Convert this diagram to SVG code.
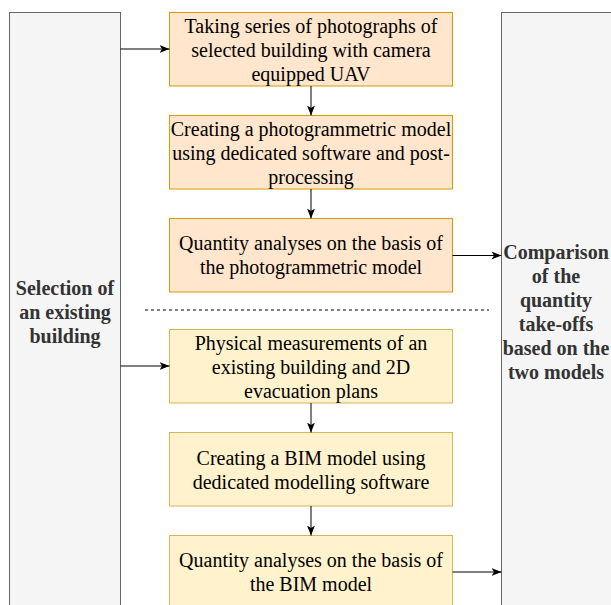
<svg xmlns="http://www.w3.org/2000/svg" width="611" height="605" viewBox="0 0 611 605">
<style>
.panel{fill:#f5f5f5;stroke:#666666;stroke-width:1}
.orange{fill:#ffe6cc;stroke:#d79b00;stroke-width:1}
.yellow{fill:#fff2cc;stroke:#d6b656;stroke-width:1}
.t{font-family:"Liberation Serif","Times New Roman",serif;font-size:20px;fill:#000;text-anchor:middle}
.pt{font-family:"Liberation Serif","Times New Roman",serif;font-size:20px;font-weight:bold;fill:#333333;text-anchor:middle}
.edge{fill:none;stroke:#000;stroke-width:1}
</style>
<defs>
<marker id="arr" viewBox="0 0 10 10" refX="10" refY="5" markerWidth="10" markerHeight="10" markerUnits="userSpaceOnUse" orient="auto">
<path d="M0,1 L10,5 L0,9 L2.5,5 Z" fill="#000"/>
</marker>
</defs>
<rect width="611" height="605" fill="#ffffff"/>
<g id="left-panel">
<rect class="panel" x="9.5" y="12.5" width="111" height="600"/>
<text class="pt"><tspan x="65" y="295">Selection of</tspan><tspan x="65" y="319">an existing</tspan><tspan x="65" y="343">building</tspan></text>
</g>
<g id="right-panel">
<rect class="panel" x="501.5" y="12.5" width="120" height="600"/>
<text class="pt"><tspan x="556" y="259">Comparison</tspan><tspan x="556" y="283">of the</tspan><tspan x="556" y="307">quantity</tspan><tspan x="556" y="331">take-offs</tspan><tspan x="556" y="355">based on the</tspan><tspan x="556" y="379">two models</tspan></text>
</g>
<g id="box1">
<rect class="orange" x="169.5" y="12.5" width="283" height="73.5"/>
<text class="t"><tspan x="311" y="33">Taking series of photographs of</tspan><tspan x="311" y="57">selected building with camera</tspan><tspan x="311" y="81">equipped UAV</tspan></text>
</g>
<g id="box2">
<rect class="orange" x="169.5" y="115.5" width="283" height="73.5"/>
<text class="t"><tspan x="311" y="136">Creating a photogrammetric model</tspan><tspan x="311" y="160">using dedicated software and post-</tspan><tspan x="311" y="184">processing</tspan></text>
</g>
<g id="box3">
<rect class="orange" x="169.5" y="218.5" width="283" height="73.5"/>
<text class="t"><tspan x="311" y="250">Quantity analyses on the basis of</tspan><tspan x="311" y="274">the photogrammetric model</tspan></text>
</g>
<g id="box4">
<rect class="yellow" x="169.5" y="329.5" width="283" height="73.5"/>
<text class="t"><tspan x="311" y="350">Physical measurements of an</tspan><tspan x="311" y="374">existing building and 2D</tspan><tspan x="311" y="398">evacuation plans</tspan></text>
</g>
<g id="box5">
<rect class="yellow" x="169.5" y="432.5" width="283" height="73.5"/>
<text class="t"><tspan x="311" y="464.5">Creating a BIM model using</tspan><tspan x="311" y="488.5">dedicated modelling software</tspan></text>
</g>
<g id="box6">
<rect class="yellow" x="169.5" y="535.5" width="283" height="73.5"/>
<text class="t"><tspan x="311" y="567">Quantity analyses on the basis of</tspan><tspan x="311" y="591">the BIM model</tspan></text>
</g>
<g id="connectors">
<line class="edge" x1="120.5" y1="49" x2="169.5" y2="49" marker-end="url(#arr)"/>
<line class="edge" x1="120.5" y1="366" x2="169.5" y2="366" marker-end="url(#arr)"/>
<line class="edge" x1="311" y1="86" x2="311" y2="115.5" marker-end="url(#arr)"/>
<line class="edge" x1="311" y1="189" x2="311" y2="218.5" marker-end="url(#arr)"/>
<line class="edge" x1="311" y1="403" x2="311" y2="432.5" marker-end="url(#arr)"/>
<line class="edge" x1="311" y1="506" x2="311" y2="535.5" marker-end="url(#arr)"/>
<line class="edge" x1="452.5" y1="255.5" x2="501.5" y2="255.5" marker-end="url(#arr)"/>
<line class="edge" x1="452.5" y1="572" x2="501.5" y2="572" marker-end="url(#arr)"/>
<line class="edge" x1="145" y1="310" x2="489" y2="310" stroke-dasharray="3 3"/>
</g>
</svg>
